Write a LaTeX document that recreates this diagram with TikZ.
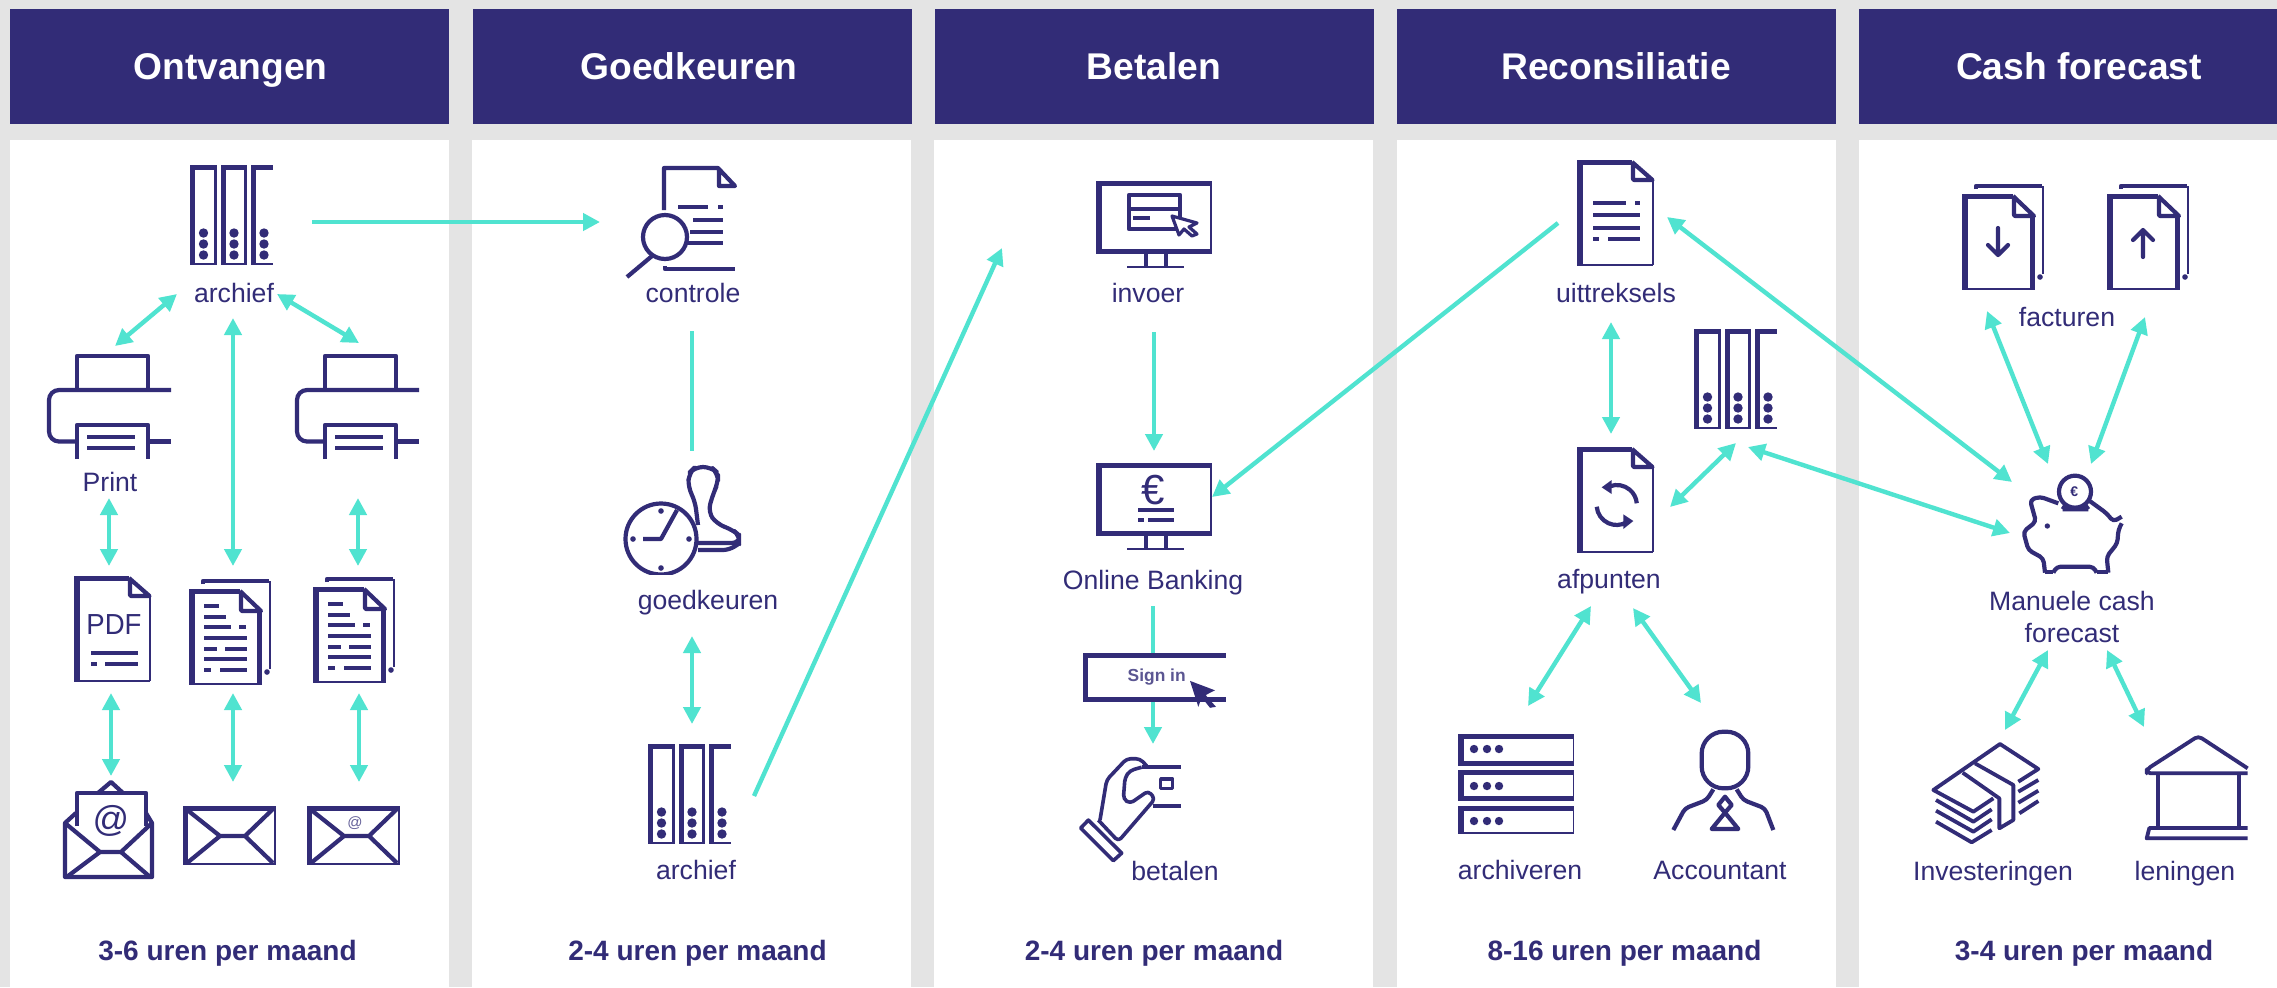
\documentclass[tikz,border=0pt]{standalone}
\usepackage{fontspec}
\setmainfont{Liberation Sans}
\usetikzlibrary{arrows.meta}
\definecolor{navy}{HTML}{322C77}
\definecolor{teal}{HTML}{50E3D0}
\definecolor{bggray}{HTML}{E4E4E4}
\tikzset{
  ico/.style={draw=navy,line width=2.1pt,line join=round},
  icothin/.style={draw=navy,line width=1pt},
  txl/.style={draw=navy,line width=2pt},
  lbl/.style={text=navy,font=\fontsize{13.3}{15}\selectfont,anchor=base,inner sep=0pt},
  foot/.style={text=navy,font=\fontsize{14}{16}\selectfont\bfseries,anchor=base,inner sep=0pt},
  head/.style={text=white,font=\fontsize{18.6}{20}\selectfont\bfseries,anchor=base,inner sep=0pt},
  conn/.style={draw=teal,line width=2.2pt},
  one/.style={conn,-{Triangle[length=8.5pt,width=8.5pt]}},
  two/.style={conn,{Triangle[length=8.5pt,width=8.5pt]}-{Triangle[length=8.5pt,width=8.5pt]}},
  pics/binder/.style={code={
    \foreach \a/\b in {0/27,31/57}{
      \fill[navy] (\a,0) rectangle (\a+5,100);
      \fill[navy] (\a,0) rectangle (\b,5);
      \fill[navy] (\b-3.5,0) rectangle (\b,100);
      \fill[navy] (\a,97.5) rectangle (\b,100);
    }
    \fill[navy] (61,0) rectangle (66,100);
    \fill[navy] (61,0) rectangle (83,5);
    \fill[navy] (61,97.5) rectangle (83,100);
    \foreach \x in {13.5,44,74}\foreach \y in {68,79,90}
      \fill[navy] (\x,\y) circle[radius=4.7];
  }},
  pics/printer/.style={code={
    \draw[ico] (30,34)--(30,2)--(101,2)--(101,34);
    \draw[ico,rounded corners=5pt] (30,87.5)--(2,87.5)--(2,36)--(124,36);
    \draw[ico] (101,87.5)--(124,87.5);
    \draw[ico] (30,105)--(30,71)--(101,71)--(101,105);
    \draw[txl] (40,83)--(88,83) (40,94)--(88,94);
  }},
  pics/doc/.style={code={
    \fill[navy] (0,0) rectangle (5.5,105);
    \fill[navy] (0,0) rectangle (55,4.5);
    \draw[icothin] (75.5,19)--(75.5,105) (0,104.5)--(76,104.5);
    \draw[ico] (55,2)--(75.5,20)--(57,20)--(56,19)--(56,2);
  }},
  pics/pile/.style={code={
    \draw[ico] (14,5)--(14,2)--(80,2);
    \draw[icothin] (80.5,2)--(80.5,90);
    \fill[navy] (78,93) circle[radius=2.8];
    \fill[navy] (0,10) rectangle (5.5,105);
    \fill[navy] (0,10) rectangle (51,14.5);
    \draw[ico] (51,12)--(72,32)--(53,32)--(52,31)--(52,12);
    \fill[navy] (68,31) rectangle (73,105);
    \draw[icothin] (0,104.5)--(73,104.5);
  }},
  pics/monitor/.style={code={
    \fill[navy] (0,0) rectangle (115,5);
    \fill[navy] (0,0) rectangle (6,73);
    \fill[navy] (0,68) rectangle (116,73);
    \draw[icothin] (115.2,0)--(115.2,72);
    \draw[ico] (50,72)--(50,85) (70,72)--(70,85);
    \draw[icothin] (31,85.5)--(88,85.5);
  }},
}
\newcommand{\txtlines}{%
  \foreach \a/\b/\y in {15/30/27,15/37/38,15/42/48,50/57/48,15/58/59,15/28/70,36/58/70,15/58/80,15/22/91,31/58/91}
    \draw[txl] (\a,\y)--(\b,\y);}
\begin{document}
\begin{tikzpicture}[x=0.5pt,y=-0.5pt]
\useasboundingbox (0,0) rectangle (2277,987);
\fill[bggray] (0,0) rectangle (2277,987);
% panels and headers
\foreach \a/\b in {10/449,472/911,934/1373,1397/1836,1859/2277}
  \fill[white] (\a,140) rectangle (\b,987);
\foreach \a/\b in {10/449,473/912,935/1374,1397/1836,1859/2277}
  \fill[navy] (\a,9) rectangle (\b,124);
\node[head] (h1) at (230.5,79) {Ontvangen};
\node[head] (h2) at (689,79) {Goedkeuren};
\node[head] (h3) at (1154,79) {Betalen};
\node[head] (h4) at (1616,79) {Reconsiliatie};
\node[head] (h5) at (2079,79) {Cash forecast};
\node[foot] (f1) at (227.5,960) {3-6 uren per maand};
\node[foot] (f2) at (697.5,960) {2-4 uren per maand};
\node[foot] (f3) at (1154,960) {2-4 uren per maand};
\node[foot] (f4) at (1624.5,960) {8-16 uren per maand};
\node[foot] (f5) at (2084,960) {3-4 uren per maand};
% labels
\node[lbl] (l1) at (234,302) {archief};
\node[lbl] (l2) at (110,491) {Print};
\node[lbl] (l3) at (693,302) {controle};
\node[lbl] (l4) at (708,609.5) {goedkeuren};
\node[lbl] (l5) at (696,879.5) {archief};
\node[lbl] (l6) at (1148,302) {invoer};
\node[lbl] (l7) at (1153,589) {Online Banking};
\node[lbl] (l8) at (1175,880) {betalen};
\node[lbl] (l9) at (1616,302) {uittreksels};
\node[lbl] (l10) at (1609,588) {afpunten};
\node[lbl] (l11) at (1520,879.5) {archiveren};
\node[lbl] (l12) at (1720,879.5) {Accountant};
\node[lbl] (l13) at (2067,326) {facturen};
\node[lbl] (l14) at (2072,610.5) {Manuele cash};
\node[lbl] (l15) at (2072,642.5) {forecast};
\node[lbl] (l16) at (1993,880) {Investeringen};
\node[lbl] (l17) at (2185,880) {leningen};
% column 1 icons
\pic at (190,165) {binder};
\pic at (47,354) {printer};
\pic at (295,354) {printer};
\pic at (74,576) {doc};
\node[text=navy,font=\fontsize{14.5}{16}\selectfont,xscale=.95,inner sep=0pt] (pdf) at (114,625) {PDF};
\draw[txl] (91,653)--(138,653) (91,664)--(97,664) (105,664)--(138,664);
\pic at (189,579) {pile};
\begin{scope}[shift={(189,579)}]\txtlines\end{scope}
\pic at (313,577) {pile};
\begin{scope}[shift={(313,577)}]\txtlines\end{scope}
% open envelope
\begin{scope}[shift={(63,780)}]
  \draw[ico] (35,13)--(48,2)--(60,13);
  \draw[ico] (13,33)--(2,43)--(2,97)--(89,97)--(89,43)--(83,33);
  \draw[ico] (14,46)--(14,13)--(83,13)--(83,46);
  \draw[ico] (2,43)--(37,72)--(58,72)--(89,43);
  \draw[ico] (37,72)--(5,96) (58,72)--(86,96);
  \node[text=navy,font=\fontsize{18}{18}\selectfont,inner sep=0pt] (at1) at (48,41) {@};
\end{scope}
% envelopes
\foreach \x in {183,307}{
\begin{scope}[shift={(\x,806)}]
  \fill[navy] (0,0) rectangle (92,5);
  \fill[navy] (0,0) rectangle (5,59);
  \draw[icothin] (91.5,0)--(91.5,59) (0,57.5)--(92,57.5);
  \draw[ico] (3,3)--(37,30)--(62,30)--(90,3);
  \draw[ico] (37,30)--(4,57) (62,30)--(90,57);
\end{scope}}
\node[text=navy!75,font=\fontsize{7.5}{8}\selectfont,inner sep=0pt] (at2) at (355,823) {@};
% column 2 icons: controle
\begin{scope}[shift={(626,166)}]
  \draw[ico] (38,44)--(38,2)--(92,2)--(109,20)--(93,20)--(93,2);
  \draw[ico] (39,100)--(39,103)--(109,103);
  \draw[txl] (52,41)--(82,41) (92,41)--(97,41) (67,54)--(97,54) (64,66)--(97,66) (61,77)--(97,77);
  \draw[ico,fill=white] (39,71) ellipse[x radius=22,y radius=22];
  \draw[ico] (26,90)--(1,111);
\end{scope}
\pic at (648,744) {binder};
% stamp and clock
\begin{scope}[shift={(623,465)}]
  \clip (-2,-2) rectangle (118,109);
  \draw[ico,rounded corners=4pt] (75,60)--(72,36)--(65,22)--(66,8)--(72,2)--(88,2)--(95,8)--(95,18)--(90,29)--(85,47)--(94,59)--(110,65)--(117,71)--(117,78)--(75,78);
  \draw[ico,rounded corners=3pt] (75,85)--(106,85)--(117,78);
  \draw[ico,fill=white] (38,74) circle[radius=35.5];
  \draw[ico] (20,74)--(38,74)--(54,45);
  \foreach \p in {(38,46),(38,103),(10,74),(66,74)} \fill[navy] \p circle[radius=2.8];
\end{scope}
% column 3 icons
\pic at (1096,181) {monitor};
\begin{scope}[shift={(1096,181)}]
  \draw[ico] (33,14) rectangle (84,48);
  \draw[ico] (33,28)--(84,28);
  \draw[txl] (37,37)--(54,37);
  \draw[ico,fill=white,line width=1.6pt] (76,35)--(101,42)--(93,46)--(101,53)--(96,55)--(88,48)--(83,54)--cycle;
\end{scope}
\pic at (1096,463) {monitor};
\node[text=navy,font=\fontsize{21}{21}\selectfont,inner sep=0pt] (euro) at (1153,490) {€};
\draw[txl] (1138,510)--(1174,510) (1138,519.5)--(1144,519.5) (1148,519.5)--(1174,519.5);
\begin{scope}[shift={(1040,150)},xscale=1/3,yscale=1/2.119]
  \fill[white] (130,1065) rectangle (557,1170);
  \fill[navy] (130,1065) rectangle (557,1076);
  \fill[navy] (130,1065) rectangle (145,1170);
  \fill[navy] (130,1160) rectangle (557,1170);
  \node[text=navy!80,font=\fontsize{8.7}{9}\selectfont\bfseries,inner sep=0pt] (signin) at (350,1117) {Sign in};
  \fill[navy] (450,1125)--(525,1145)--(497,1155)--(528,1180)--(510,1182)--(485,1160)--(475,1180)--cycle;
  % hand with card
  \draw[ico,line width=1.8pt] (305,1308)--(422,1308) (340,1390)--(422,1390);
  \draw[ico,line width=1.8pt] (362,1333) rectangle (398,1353);
  \draw[ico,line width=1.8pt,rounded corners=2pt] (320,1305)--(300,1290)--(260,1290)--(200,1335)--(180,1420);
  \draw[ico,line width=1.8pt,rounded corners=2pt] (175,1420)--(235,1465)--(345,1375)--(325,1358)--(270,1385)--(250,1375)--(255,1330)--(270,1315)--(305,1308);
  \draw[ico,line width=1.8pt] (122,1437)--(145,1420)--(245,1490)--(220,1506)--cycle;
\end{scope}
% column 4 icons
\pic at (1577,160) {doc};
\begin{scope}[shift={(1577,160)}]
  \foreach \a/\b/\y in {16/49/43,58/63/43,16/63/55,16/63/68,16/22/79,31/63/79}
    \draw[txl] (\a,\y)--(\b,\y);
\end{scope}
\pic at (1694,329) {binder};
\pic at (1577,447) {doc};
\begin{scope}[shift={(1440,140)},scale=1/3]
  \draw[ico] (510,1038.6) arc[start angle=-110,end angle=-5,radius=60];
  \draw[ico] (470.2,1100.2) arc[start angle=175,end angle=60,radius=60];
  \fill[navy] (485,1042)--(515,1020)--(515,1062)--cycle;
  \fill[navy] (580,1143)--(550,1123)--(550,1167)--cycle;
\end{scope}
% server
\begin{scope}[shift={(1458,734)}]
  \foreach \t/\h/\ti/\bi in {0/32/5/27,36/31/41/62,72/28/77/98}{
    \fill[navy] (0,\t) rectangle (116,\t+\h);
    \fill[white] (6,\ti) rectangle (115,\bi);
  }
  \foreach \y in {15,52,87}\foreach \x in {16,29,41}
    \fill[navy] (\x,\y) circle[radius=4.2];
\end{scope}
% accountant
\begin{scope}[shift={(1440,590)},scale=1/3]
  \draw[ico,rounded corners=11pt] (785,425) rectangle (925,595);
  \draw[ico,rounded corners=2pt] (820,598)--(800,630)--(735,655)--(700,720);
  \draw[ico,rounded corners=2pt] (890,598)--(910,630)--(975,655)--(1000,720);
  \draw[ico] (855,620)--(875,645)--(855,668)--(835,645)--cycle;
  \draw[ico] (855,668)--(895,717)--(815,717)--cycle;
\end{scope}
% column 5 icons
\pic at (1962,184) {pile};
\draw[ico,line cap=round] (1998,228)--(1998,255) (1988,245)--(1998,255)--(2008,245);
\pic at (2107,184) {pile};
\draw[ico,line cap=round] (2143,257)--(2143,230) (2133,240)--(2143,230)--(2153,240);
% piggy
\begin{scope}[shift={(1880,160)},scale=1/3]
  \draw[ico,rounded corners=2pt] (535,1030)--(480,1010)--(450,1020)--(468,1085)--(430,1115)--(445,1170)--(490,1195)--(495,1238);
  \draw[ico,rounded corners=2pt] (520,1238)--(530,1220)--(640,1220)--(650,1238);
  \draw[ico,rounded corners=2pt] (625,1020)--(680,1060)--(700,1085)--(725,1070);
  \draw[ico,rounded corners=2pt] (725,1090)--(715,1110)--(712,1150)--(680,1190)--(685,1238);
  \draw[ico] (495,1237)--(520,1237) (650,1237)--(685,1237);
  \draw[ico] (548,1048)--(560,1030) (625,1048)--(612,1030) (548,1048)--(625,1048);
  \draw[ico] (585,995) circle[radius=48];
  \fill[navy] (502,1098) circle[radius=8];
  \node[text=navy,font=\fontsize{7}{7}\selectfont\bfseries,inner sep=0pt] (eur2) at (583,995) {€};
\end{scope}
% money
\begin{scope}[shift={(1880,720)},scale=1/3]
  \draw[ico,line width=1.9pt] (340,235)--(280,275)--(160,210)--(360,72)--(475,147)--(415,185);
  \draw[ico,line width=1.9pt] (285,130)--(400,195)--(400,300)--(358,325)--(358,235)--(248,158);
  \draw[ico,line width=1.9pt] (168,240)--(280,305)--(335,268) (168,272)--(280,335)--(335,298) (168,305)--(275,367)--(335,330);
  \draw[ico,line width=1.9pt] (415,215)--(475,180) (415,248)--(475,212) (418,280)--(475,243);
\end{scope}
% bank
\begin{scope}[shift={(1880,720)},scale=1/3]
  \draw[ico,line width=1.9pt,rounded corners=2pt] (1103,160)--(800,160)--(800,148)--(955,48)--(1103,145);
  \draw[ico,line width=1.9pt] (835,160)--(835,322) (1078,160)--(1078,322);
  \draw[ico,line width=1.9pt] (1103,324)--(808,324)--(800,355)--(1103,355);
\end{scope}
% connector ends
\coordinate (a1) at (312,222); \coordinate (a2) at (600,222);
\coordinate (b1) at (177,294); \coordinate (b2) at (115,346);
\coordinate (c1) at (277,294); \coordinate (c2) at (359,343);
\coordinate (d1) at (233,318); \coordinate (d2) at (233,566);
\coordinate (e1) at (109,498); \coordinate (e2) at (109,566);
\coordinate (g1) at (358,498); \coordinate (g2) at (358,566);
\coordinate (i1) at (111,693); \coordinate (i2) at (111,776);
\coordinate (j1) at (233,693); \coordinate (j2) at (233,782);
\coordinate (k1) at (359,693); \coordinate (k2) at (359,782);
\coordinate (m1) at (692,331); \coordinate (m2) at (692,450.5);
\coordinate (n1) at (692,636); \coordinate (n2) at (692,724);
\coordinate (o1) at (754,796); \coordinate (o2) at (1002,248);
\coordinate (p1) at (1154,332); \coordinate (p2) at (1154,451);
\coordinate (q1) at (1558,223); \coordinate (q2) at (1212,497);
\coordinate (r1) at (1153,606); \coordinate (r2) at (1153,652.5);
\coordinate (r3) at (1153,702); \coordinate (r4) at (1153,744);
\coordinate (s1) at (1611,322); \coordinate (s2) at (1611,434);
\coordinate (t1) at (1667,217); \coordinate (t2) at (2012,482);
\coordinate (u1) at (1736,443); \coordinate (u2) at (1670,507);
\coordinate (v1) at (1748,447); \coordinate (v2) at (2010,533);
\coordinate (w1) at (1591,606); \coordinate (w2) at (1528,706);
\coordinate (x1) at (1633,608); \coordinate (x2) at (1701,703);
\coordinate (y1) at (1987,311); \coordinate (y2) at (2048,464);
\coordinate (z1) at (2145,317); \coordinate (z2) at (2091,464);
\coordinate (aa1) at (2048,650); \coordinate (aa2) at (2005,730);
\coordinate (ab1) at (2107,650); \coordinate (ab2) at (2144,727);
% connectors
\draw[one] (a1)--(a2);
\draw[two] (b1)--(b2);
\draw[two] (c1)--(c2);
\draw[two] (d1)--(d2);
\draw[two] (e1)--(e2);
\draw[two] (g1)--(g2);
\draw[two] (i1)--(i2);
\draw[two] (j1)--(j2);
\draw[two] (k1)--(k2);
\draw[conn] (m1)--(m2);
\draw[two] (n1)--(n2);
\draw[one] (o1)--(o2);
\draw[one] (p1)--(p2);
\draw[one] (q1)--(q2);
\draw[conn] (r1)--(r2);
\draw[one] (r3)--(r4);
\draw[two] (s1)--(s2);
\draw[two] (t1)--(t2);
\draw[two] (u1)--(u2);
\draw[two] (v1)--(v2);
\draw[two] (w1)--(w2);
\draw[two] (x1)--(x2);
\draw[two] (y1)--(y2);
\draw[two] (z1)--(z2);
\draw[two] (aa1)--(aa2);
\draw[two] (ab1)--(ab2);
\end{tikzpicture}
\end{document}
